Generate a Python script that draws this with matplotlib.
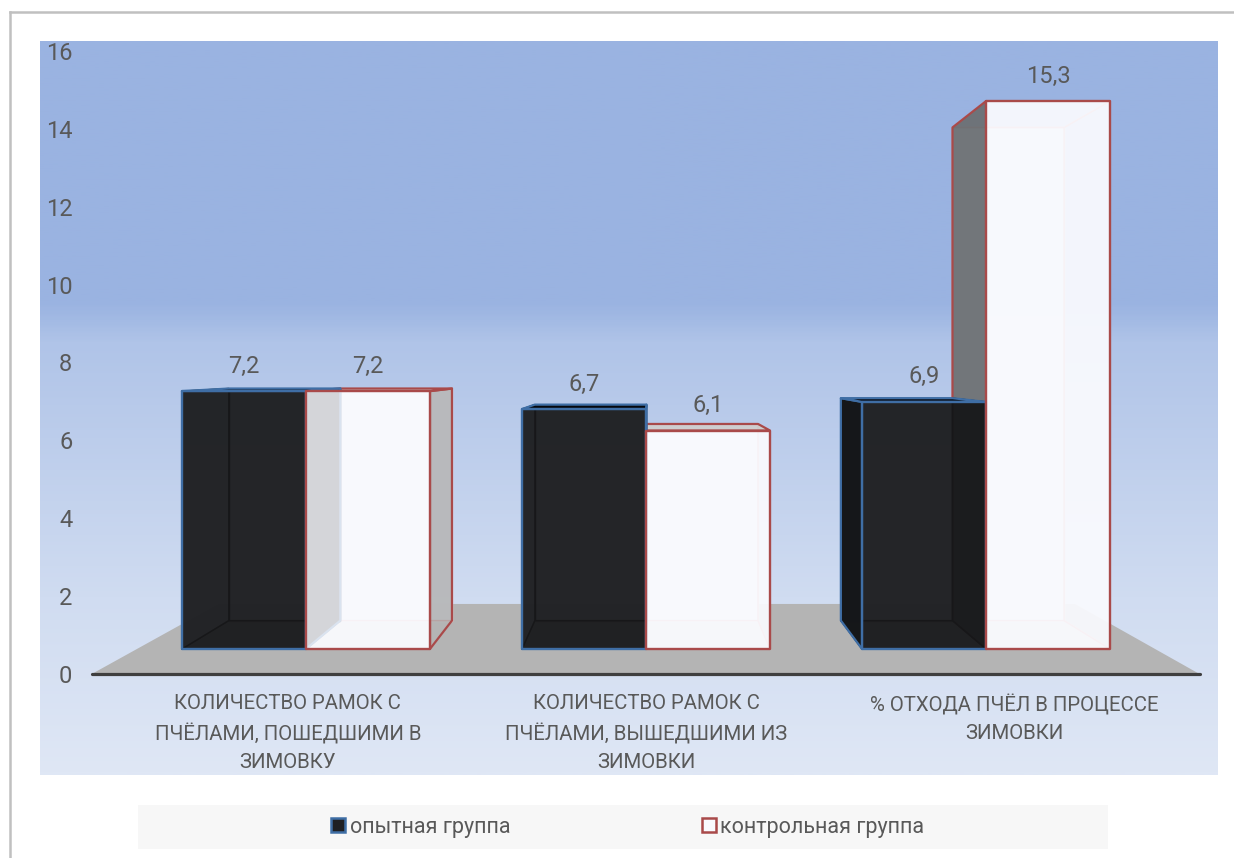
import matplotlib
matplotlib.use("Agg")
import matplotlib.pyplot as plt
import numpy as np
from matplotlib.colors import LinearSegmentedColormap
from matplotlib.lines import Line2D
from matplotlib.patches import Patch, Polygon, Rectangle

plt.rcParams['font.family'] = ['Roboto', 'DejaVu Sans']

categories = ["КОЛИЧЕСТВО РАМОК С\nПЧЁЛАМИ, ПОШЕДШИМИ В\nЗИМОВКУ",
              "КОЛИЧЕСТВО РАМОК С\nПЧЁЛАМИ, ВЫШЕДШИМИ ИЗ\nЗИМОВКИ",
              "% ОТХОДА ПЧЁЛ В ПРОЦЕССЕ\nЗИМОВКИ"]
opyt = [7.2, 6.7, 6.9]
kontrol = [7.2, 6.1, 15.3]
value_labels_opyt = ["7,2", "6,7", "6,9"]
value_labels_kontrol = ["7,2", "6,1", "15,3"]
legend_names = ["опытная группа", "контрольная группа"]
y_ticks = [0, 2, 4, 6, 8, 10, 12, 14, 16]

W, H = 1234, 858
TXT = '#595959'

# fake 3d: the front plane is scaled, the back plane shrinks toward a vanishing point
BAR_W = 124 / 340
VP_X, VP_Y = 1.012, 7.94
BASE_Y = 0.642
FRONT_SCALE = 0.9197
BACK_K = 0.9


def front(v):
    return BASE_Y + v * FRONT_SCALE


def proj(x, y, k):
    return (VP_X + k * (x - VP_X), VP_Y + k * (y - VP_Y))


def face(ax, pts, fc, alpha, ec, lw, z):
    r, g, b, _ = matplotlib.colors.to_rgba(fc)
    ax.add_patch(Polygon(pts, closed=True, fc=(r, g, b, alpha), ec=ec, lw=lw, zorder=z, joinstyle='round'))


fig = plt.figure(figsize=(W / 100, H / 100), dpi=100, facecolor='white')
ax = fig.add_axes([40 / W, (H - 775) / H, (1218 - 40) / W, (775 - 41) / H])

# background gradient, top is at the end of the list
stops = [(0.0, '#dfe7f5'), (0.24, '#d0dcf1'), (0.59, '#b0c4e8'), (0.62, '#a3bae4'), (0.645, '#9ab3e1'), (1.0, '#9ab3e1')]
cmap = LinearSegmentedColormap.from_list('bg', stops)
ax.imshow(np.linspace(0, 1, 400)[:, None], origin='lower', cmap=cmap, aspect='auto',
          extent=(0, 1, 0, 1), transform=ax.transAxes, zorder=0, vmin=0, vmax=1)

ax.set_xlim(-0.782, 2.682)
ax.set_ylim(-2.594, 16.256)
for s in ax.spines.values():
    s.set_visible(False)
ax.set_xticks([])
ax.set_yticks(y_ticks)
ax.set_yticklabels([str(t) for t in y_ticks])
ax.tick_params(axis='y', length=0, pad=-23.3, labelsize=17, labelcolor=TXT)

# floor
fl, fr = -0.497, 2.497
floor = [proj(fl, BASE_Y, 1.088), proj(fr, BASE_Y, 1.088), proj(fr, BASE_Y, 0.8415), proj(fl, BASE_Y, 0.8415)]
ax.add_patch(Polygon(floor, closed=True, fc='#b4b4b4', ec='none', zorder=1))
ax.plot([floor[0][0], floor[1][0]], [0, 0], color='#3f3f3f', lw=2.3, zorder=1.5, solid_capstyle='round')


def box_rear(x0, v, st, z):
    x1 = x0 + BAR_W
    y0, y1 = BASE_Y, front(v)
    b = [proj(x0, y0, BACK_K), proj(x1, y0, BACK_K), proj(x1, y1, BACK_K), proj(x0, y1, BACK_K)]
    f = [(x0, y0), (x1, y0), (x1, y1), (x0, y1)]
    ec, inner = st['ec'], st['inner_ec']
    face(ax, b, st['back'], st['back_a'], inner, 1.0, z)
    face(ax, [f[0], f[1], b[1], b[0]], st['bottom'], st['bottom_a'], inner, 1.0, z)
    # a side whose back edge falls outside the front rectangle is seen from outside
    left_out = b[0][0] < x0
    right_out = b[1][0] > x1
    top_out = b[3][1] > y1
    sides = [(left_out, [f[0], f[3], b[3], b[0]], st['out_l'], st['in_l']),
             (right_out, [f[1], f[2], b[2], b[1]], st['out_r'], st['in_r']),
             (top_out, [f[3], f[2], b[2], b[3]], st['out_t'], st['in_t'])]
    # inner faces first so the outer ones stay clean
    for out, pts, oc, ic in sides:
        if not out:
            face(ax, pts, ic[0], ic[1], inner, 1.0, z)
    for out, pts, oc, ic in sides:
        if out:
            face(ax, pts, oc[0], oc[1], ec, 1.6, z)


def box_front(x0, v, st, z):
    x1 = x0 + BAR_W
    y0, y1 = BASE_Y, front(v)
    face(ax, [(x0, y0), (x1, y0), (x1, y1), (x0, y1)], st['front'], st['front_a'], st['ec'], 1.7, z)


dark = dict(ec='#3f6ea5', inner_ec='#000000', back='#17181b', back_a=0.95, bottom='#101010', bottom_a=0.95,
            out_l=('#15171a', 0.97), in_l=('#17181b', 0.95), out_r=('#1b1d20', 0.97), in_r=('#000000', 0.9),
            out_t=('#05080e', 0.97), in_t=('#17181b', 0.9), front='#27282b', front_a=0.6)
light = dict(ec='#a94a4a', inner_ec='#f0c8c8', back='#f6f8fd', back_a=0.97, bottom='#f2f2f2', bottom_a=0.9,
             out_l=('#606468', 0.88), in_l=('#ffffff', 0.5), out_r=('#888888', 0.55), in_r=('#ffffff', 0.6),
             out_t=('#c8c8c8', 0.85), in_t=('#ffffff', 0.6), front='#f9fafe', front_a=0.84)

x_pos = np.arange(len(categories))
for i in x_pos:
    # control box rear goes under the whole experimental box
    z = 2 + i
    box_rear(i, kontrol[i], light, z)
    box_rear(i - BAR_W, opyt[i], dark, z + 0.1)
    box_front(i - BAR_W, opyt[i], dark, z + 0.2)
    box_front(i, kontrol[i], light, z + 0.3)

for i in x_pos:
    ax.annotate(value_labels_opyt[i], (i - BAR_W / 2, front(opyt[i])), xytext=(0, 18), textcoords='offset points',
                ha='center', va='center', fontsize=17, color=TXT, zorder=10)
    ax.annotate(value_labels_kontrol[i], (i + BAR_W / 2, front(kontrol[i])), xytext=(0, 18), textcoords='offset points',
                ha='center', va='center', fontsize=17, color=TXT, zorder=10)

# axis labels sit inside the painted area
label_shift = [-0.053, 0.0, 0.082]
for i, name in enumerate(categories):
    ax.text(i + label_shift[i], -0.52, name, ha='center', va='top', fontsize=14.7, color=TXT,
            linespacing=1.6, zorder=10)

# legend strip
fig.add_artist(Rectangle((138 / W, (H - 849) / H), (1108 - 138) / W, 44 / H, transform=fig.transFigure,
                         fc='#f7f7f7', ec='none', zorder=-1))
handles = [Patch(fc='#1f2023', ec='#3f6ea5', lw=1.8), Patch(fc='#f9fafe', ec='#a94a4a', lw=1.8)]
fig.legend(handles, legend_names, loc='center left', bbox_to_anchor=(314 / W, (H - 827) / H), ncol=2,
           frameon=False, fontsize=15.5, labelcolor=TXT, handlelength=0.65, handleheight=0.65,
           handletextpad=0.2, columnspacing=8.9, borderpad=0.3)

# grey frame of the pasted picture
fig.add_artist(Line2D([10 / W, 1], [(H - 12) / H, (H - 12) / H], color='#c0c0c0', lw=1.8))
fig.add_artist(Line2D([10 / W, 10 / W], [0, (H - 12) / H], color='#c0c0c0', lw=1.8))

fig.savefig('out.png', dpi=100)
